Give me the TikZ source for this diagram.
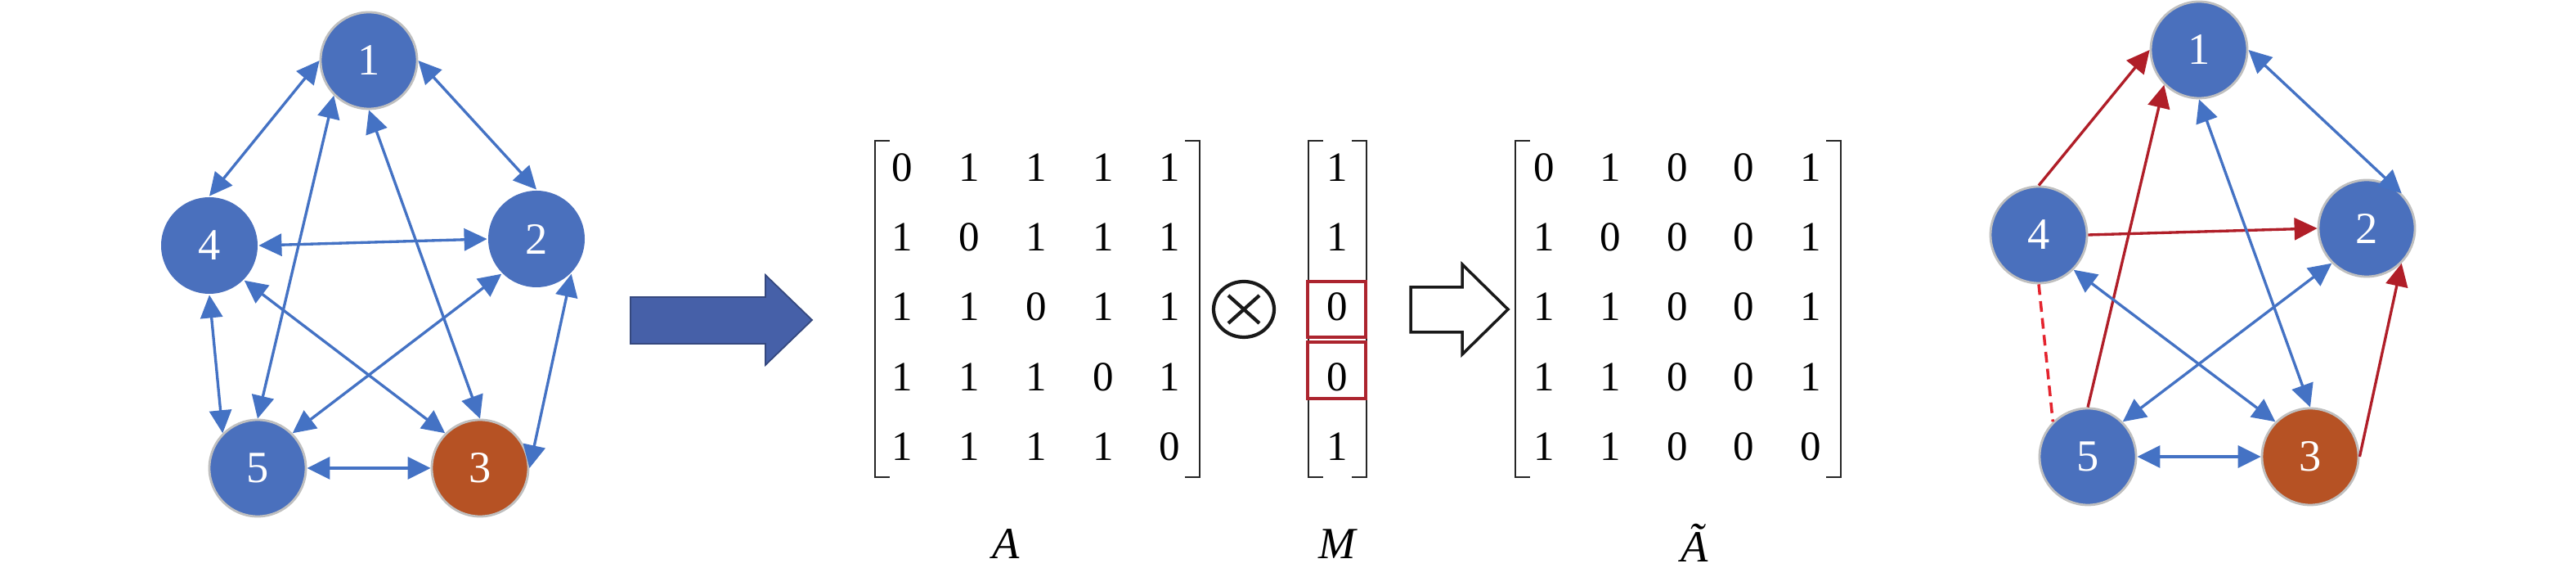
\documentclass[tikz,border=0pt]{standalone}
\usepackage{fontspec}
\setmainfont{Liberation Serif}
\usetikzlibrary{arrows.meta}
\definecolor{nodeblue}{RGB}{74,112,189}
\definecolor{nodeorange}{RGB}{182,82,36}
\definecolor{edgeblue}{RGB}{68,114,196}
\definecolor{edgered}{RGB}{176,30,40}
\definecolor{dashred}{RGB}{228,36,46}
\definecolor{bigblue}{RGB}{70,96,168}
\definecolor{boxred}{RGB}{172,36,46}
\tikzset{
	vtx/.style={circle, minimum size=1.18cm, inner sep=0pt, fill=nodeblue, draw=black!25, line width=0.8pt, text=white, font=\fontsize{15.5}{16}\selectfont},
	bare/.style={vtx, draw=none},
	hot/.style={vtx, fill=nodeorange},
	link/.style={edgeblue, line width=0.95pt, {Triangle[length=0.28cm, width=0.27cm]}-{Triangle[length=0.28cm, width=0.27cm]}},
	cut/.style={edgered, line width=0.95pt, -{Triangle[length=0.28cm, width=0.27cm]}},
	gone/.style={dashred, line width=1pt, dash pattern=on 3.7pt off 2.2pt},
	entry/.style={inner sep=0pt, font=\fontsize{14.5}{15}\selectfont},
	lbl/.style={inner sep=0pt, font=\fontsize{15.5}{16}\selectfont\itshape},
	brk/.style={black!85, line width=0.6pt},
}

\begin{document}
\begin{tikzpicture}
	%%%%% START %%%%%
	\useasboundingbox[fill=white] (0, 0) rectangle (31.5, 7.05);
	
	% full graph
	\node[vtx] (l1) at (4.51, 6.31) {1};
	\node[bare] (l4) at (2.56, 4.05) {4};
	\node[bare] (l2) at (6.56, 4.13) {2};
	\node[vtx] (l5) at (3.15, 1.33) {5};
	\node[hot] (l3) at (5.87, 1.33) {3};
	
	\draw[link] (l1.west) -- (l4.north);
	\draw[link] (l1.east) -- (l2.north);
	\draw[link] (l1.south west) -- (l5.north);
	\draw[link] (l1.south) -- (l3.north);
	\draw[link] (l4.east) -- (l2.west);
	\draw[link] (l4.south) -- (l5.north west);
	\draw[link] (l4.south east) -- (l3.north west);
	\draw[link] (l2.south west) -- (l5.north east);
	\draw[link] (l2.south east) -- (l3.east);
	\draw[link] (l5.east) -- (l3.west);
	
	% big blue arrow
	\draw[bigblue!75!black, fill=bigblue, line width=0.5pt] (7.71, 3.42) -- (9.36, 3.42) -- (9.36, 3.69) -- (9.93, 3.14) -- (9.36, 2.59) -- (9.36, 2.85) -- (7.71, 2.85) -- cycle;
	
	% matrix A
	\draw[brk] (10.88, 5.33) -- (10.70, 5.33) -- (10.70, 1.22) -- (10.88, 1.22);
	\draw[brk] (14.49, 5.33) -- (14.67, 5.33) -- (14.67, 1.22) -- (14.49, 1.22);
	\foreach \r/\y/\va/\vb/\vc/\vd/\ve in {1/5.00/0/1/1/1/1, 2/4.15/1/0/1/1/1, 3/3.30/1/1/0/1/1, 4/2.44/1/1/1/0/1, 5/1.59/1/1/1/1/0}{
		\node[entry] (a\r1) at (11.03, \y) {\va};
		\node[entry] (a\r2) at (11.85, \y) {\vb};
		\node[entry] (a\r3) at (12.67, \y) {\vc};
		\node[entry] (a\r4) at (13.49, \y) {\vd};
		\node[entry] (a\r5) at (14.30, \y) {\ve};
	}
	\node[lbl] (labA) at (12.30, 0.40) {A};
	
	% otimes
	\draw[black!90, line width=1.2pt] (15.21, 3.27) ellipse (0.37 and 0.34);
	\draw[black!90, line width=1.2pt] (15.02, 3.44) -- (15.40, 3.10);
	\draw[black!90, line width=1.2pt] (15.02, 3.10) -- (15.40, 3.44);
	
	% mask M
	\draw[brk] (16.18, 5.33) -- (16.00, 5.33) -- (16.00, 1.22) -- (16.18, 1.22);
	\draw[brk] (16.53, 5.33) -- (16.71, 5.33) -- (16.71, 1.22) -- (16.53, 1.22);
	\foreach \r/\y/\v in {1/5.00/1, 2/4.15/1, 3/3.30/0, 4/2.44/0, 5/1.59/1}{
		\node[entry] (m\r) at (16.35, \y) {\v};
	}
	\draw[boxred, line width=1pt] (15.99, 3.61) rectangle (16.70, 2.93);
	\draw[boxred, line width=1pt] (15.99, 2.87) rectangle (16.70, 2.18);
	\node[lbl] (labM) at (16.35, 0.40) {M};
	
	% hollow arrow
	\draw[black!90, line width=1pt] (17.25, 3.54) -- (17.88, 3.54) -- (17.88, 3.82) -- (18.44, 3.27) -- (17.88, 2.72) -- (17.88, 2.99) -- (17.25, 2.99) -- cycle;
	
	% masked matrix
	\draw[brk] (18.71, 5.33) -- (18.53, 5.33) -- (18.53, 1.22) -- (18.71, 1.22);
	\draw[brk] (22.33, 5.33) -- (22.51, 5.33) -- (22.51, 1.22) -- (22.33, 1.22);
	\foreach \r/\y/\va/\vb/\vc/\vd/\ve in {1/5.00/0/1/0/0/1, 2/4.15/1/0/0/0/1, 3/3.30/1/1/0/0/1, 4/2.44/1/1/0/0/1, 5/1.59/1/1/0/0/0}{
		\node[entry] (t\r1) at (18.88, \y) {\va};
		\node[entry] (t\r2) at (19.69, \y) {\vb};
		\node[entry] (t\r3) at (20.51, \y) {\vc};
		\node[entry] (t\r4) at (21.32, \y) {\vd};
		\node[entry] (t\r5) at (22.14, \y) {\ve};
	}
	\node[lbl] (labT) at (20.72, 0.42) {\~{A}};
	
	% masked graph
	\node[vtx] (r1) at (26.89, 6.44) {1};
	\node[vtx] (r4) at (24.93, 4.18) {4};
	\node[vtx] (r2) at (28.94, 4.26) {2};
	\node[vtx] (r5) at (25.53, 1.47) {5};
	\node[hot] (r3) at (28.25, 1.47) {3};
	
	\draw[cut] (r4.north) -- (r1.west);
	\draw[cut] (r5.north) -- (r1.south west);
	\draw[cut] (r4.east) -- (r2.west);
	\draw[cut] (r3.east) -- (r2.south east);
	\draw[gone] (r4.south) -- (r5.north west);
	\draw[link] (r1.east) -- (r2.north east);
	\draw[link] (r1.south) -- (r3.north);
	\draw[link] (r4.south east) -- (r3.north west);
	\draw[link] (r2.south west) -- (r5.north east);
	\draw[link] (r5.east) -- (r3.west);
	%%%%% END %%%%%
\end{tikzpicture}
\end{document}
